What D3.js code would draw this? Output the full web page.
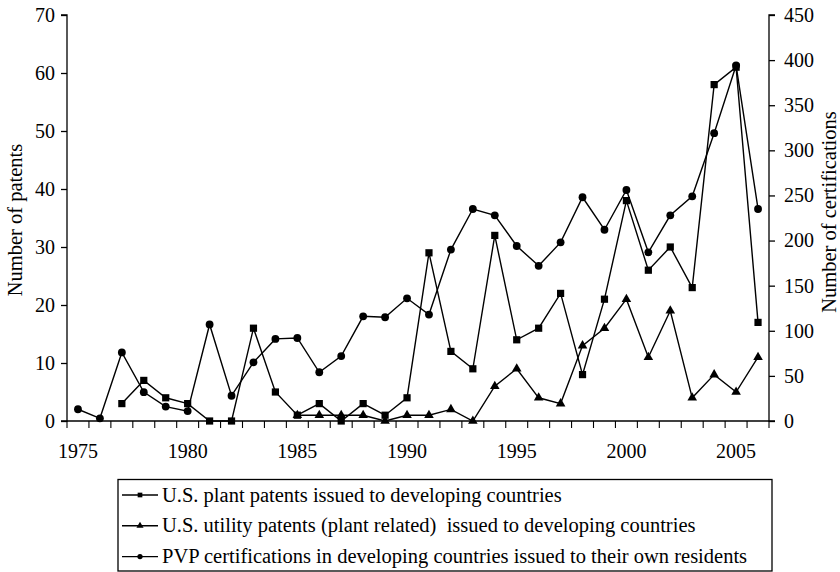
<!DOCTYPE html>
<html>
<head>
<meta charset="utf-8">
<script src="https://cdn.jsdelivr.net/npm/d3@7/dist/d3.min.js"></script>
<style>
  html, body { margin: 0; padding: 0; background: #fff; }
  svg { display: block; }
  text { font-family: "Liberation Serif", "Times New Roman", serif; fill: #000; white-space: pre; }
</style>
</head>
<body>
<svg id="chart" width="840" height="572"></svg>
<script>
// Years on the category axis
const years = d3.range(1975, 2007);
const yearLabels = [1975, 1980, 1985, 1990, 1995, 2000, 2005];

// U.S. plant patents issued to developing countries (left axis), 1977-2006
const plantYears = d3.range(1977, 2007);
const plantPatents = [3, 7, 4, 3, 0, 0, 16, 5, 1, 3, 0, 3, 1, 4, 29, 12, 9, 32, 14, 16, 22, 8, 21, 38, 26, 30, 23, 58, 61, 17];

// U.S. utility patents (plant related) issued to developing countries (left axis), 1985-2006
const utilityYears = d3.range(1985, 2007);
const utilityPatents = [1, 1, 1, 1, 0, 1, 1, 2, 0, 6, 9, 4, 3, 13, 16, 21, 11, 19, 4, 8, 5, 11];

// PVP certifications issued to own residents (right axis), 1975-2006
const pvpYears = d3.range(1975, 2007);
const pvpCerts = [13, 3, 76, 32, 16, 11, 107, 28, 65, 91, 92, 54, 72, 116, 115, 136, 118, 190, 235, 228, 194, 172, 198, 248, 212, 256, 187, 228, 249, 319, 394, 235];

const leftTicks = [0, 10, 20, 30, 40, 50, 60, 70];
const rightTicks = [0, 50, 100, 150, 200, 250, 300, 350, 400, 450];

const legendLabels = [
  "U.S. plant patents issued to developing countries",
  "U.S. utility patents (plant related)  issued to developing countries",
  "PVP certifications in developing countries issued to their own residents"
];

const svg = d3.select("#chart");
const plot = { left: 67, right: 769, top: 15, bottom: 421 };
const tickFont = 20;
const labelFont = 20.5;

const x = d3.scaleBand().domain(years).range([plot.left, plot.right]).padding(0);
const yLeft = d3.scaleLinear().domain([0, 70]).range([plot.bottom, plot.top]);
const yRight = d3.scaleLinear().domain([0, 450]).range([plot.bottom, plot.top]);
const cx = yr => x(yr) + x.bandwidth() / 2;

// Left axis
const leftAxis = svg.append("g")
  .attr("transform", `translate(${plot.left},0)`)
  .call(d3.axisLeft(yLeft).tickValues(leftTicks).tickSize(6).tickPadding(6).tickFormat(d3.format("d")));
leftAxis.select(".domain").attr("d", `M-6,${plot.top}H0V${plot.bottom}H-6`);

// Right axis
const rightAxis = svg.append("g")
  .attr("transform", `translate(${plot.right},0)`)
  .call(d3.axisRight(yRight).tickValues(rightTicks).tickSize(6).tickPadding(9).tickFormat(d3.format("d")));
rightAxis.select(".domain").attr("d", `M6,${plot.top}H0V${plot.bottom}H6`);

// Bottom axis: ticks on category boundaries, labels every five years
const bottom = svg.append("g");
bottom.append("line")
  .attr("x1", plot.left).attr("x2", plot.right)
  .attr("y1", plot.bottom).attr("y2", plot.bottom)
  .attr("stroke", "#000").attr("stroke-width", 1.3);
const boundaries = years.map(yr => x(yr)).concat([plot.right]);
bottom.selectAll("line.tick").data(boundaries).join("line")
  .attr("class", "tick")
  .attr("x1", d => d).attr("x2", d => d)
  .attr("y1", plot.bottom).attr("y2", plot.bottom + 7)
  .attr("stroke", "#000").attr("stroke-width", 1.1);
bottom.selectAll("text").data(yearLabels).join("text")
  .attr("x", d => cx(d)).attr("y", 458)
  .attr("text-anchor", "middle")
  .attr("font-size", tickFont)
  .text(d => d);

svg.selectAll(".tick text").attr("font-size", tickFont).attr("font-family", "Liberation Serif, Times New Roman, serif");
svg.selectAll(".tick line, .domain").attr("stroke", "#000").attr("stroke-width", 1.3);

// Axis titles (both read bottom to top)
svg.append("text")
  .attr("transform", `translate(22,220) rotate(-90)`)
  .attr("text-anchor", "middle")
  .attr("font-size", labelFont)
  .text("Number of patents");
svg.append("text")
  .attr("transform", `translate(836,212) rotate(-90)`)
  .attr("text-anchor", "middle")
  .attr("font-size", labelFont)
  .text("Number of certifications");

// Series drawing helpers
const lineFn = (yScale) => d3.line().x(d => cx(d[0])).y(d => yScale(d[1]));
const shapes = { square: d3.symbolSquare, triangle: d3.symbolTriangle, circle: d3.symbolCircle };
const markerSize = { square: 52, triangle: 40, circle: 48 };

function drawSeries(yrs, vals, yScale, shape) {
  const data = yrs.map((yr, i) => [yr, vals[i]]);
  const g = svg.append("g");
  g.append("path").datum(data)
    .attr("d", lineFn(yScale))
    .attr("fill", "none").attr("stroke", "#000").attr("stroke-width", 1.4);
  g.selectAll("path.m").data(data).join("path")
    .attr("class", "m")
    .attr("transform", d => `translate(${cx(d[0])},${yScale(d[1])})`)
    .attr("d", d3.symbol().type(shapes[shape]).size(markerSize[shape])())
    .attr("fill", "#000");
}

drawSeries(utilityYears, utilityPatents, yLeft, "triangle");
drawSeries(plantYears, plantPatents, yLeft, "square");
drawSeries(pvpYears, pvpCerts, yRight, "circle");

// Legend
const legend = svg.append("g");
legend.append("rect")
  .attr("x", 118).attr("y", 479.5).attr("width", 654).attr("height", 91.5)
  .attr("fill", "#fff").attr("stroke", "#000").attr("stroke-width", 1.3);
const legendShapes = ["square", "triangle", "circle"];
legendLabels.forEach((label, i) => {
  const yy = 495 + i * 30.8;
  legend.append("line")
    .attr("x1", 122).attr("x2", 158).attr("y1", yy).attr("y2", yy)
    .attr("stroke", "#000").attr("stroke-width", 1.4);
  legend.append("path")
    .attr("transform", `translate(140,${yy})`)
    .attr("d", d3.symbol().type(shapes[legendShapes[i]]).size(22)())
    .attr("fill", "#000");
  legend.append("text")
    .attr("x", 162).attr("y", yy + 6.5)
    .attr("font-size", labelFont)
    .attr("xml:space", "preserve")
    .text(label);
});
</script>
</body>
</html>
